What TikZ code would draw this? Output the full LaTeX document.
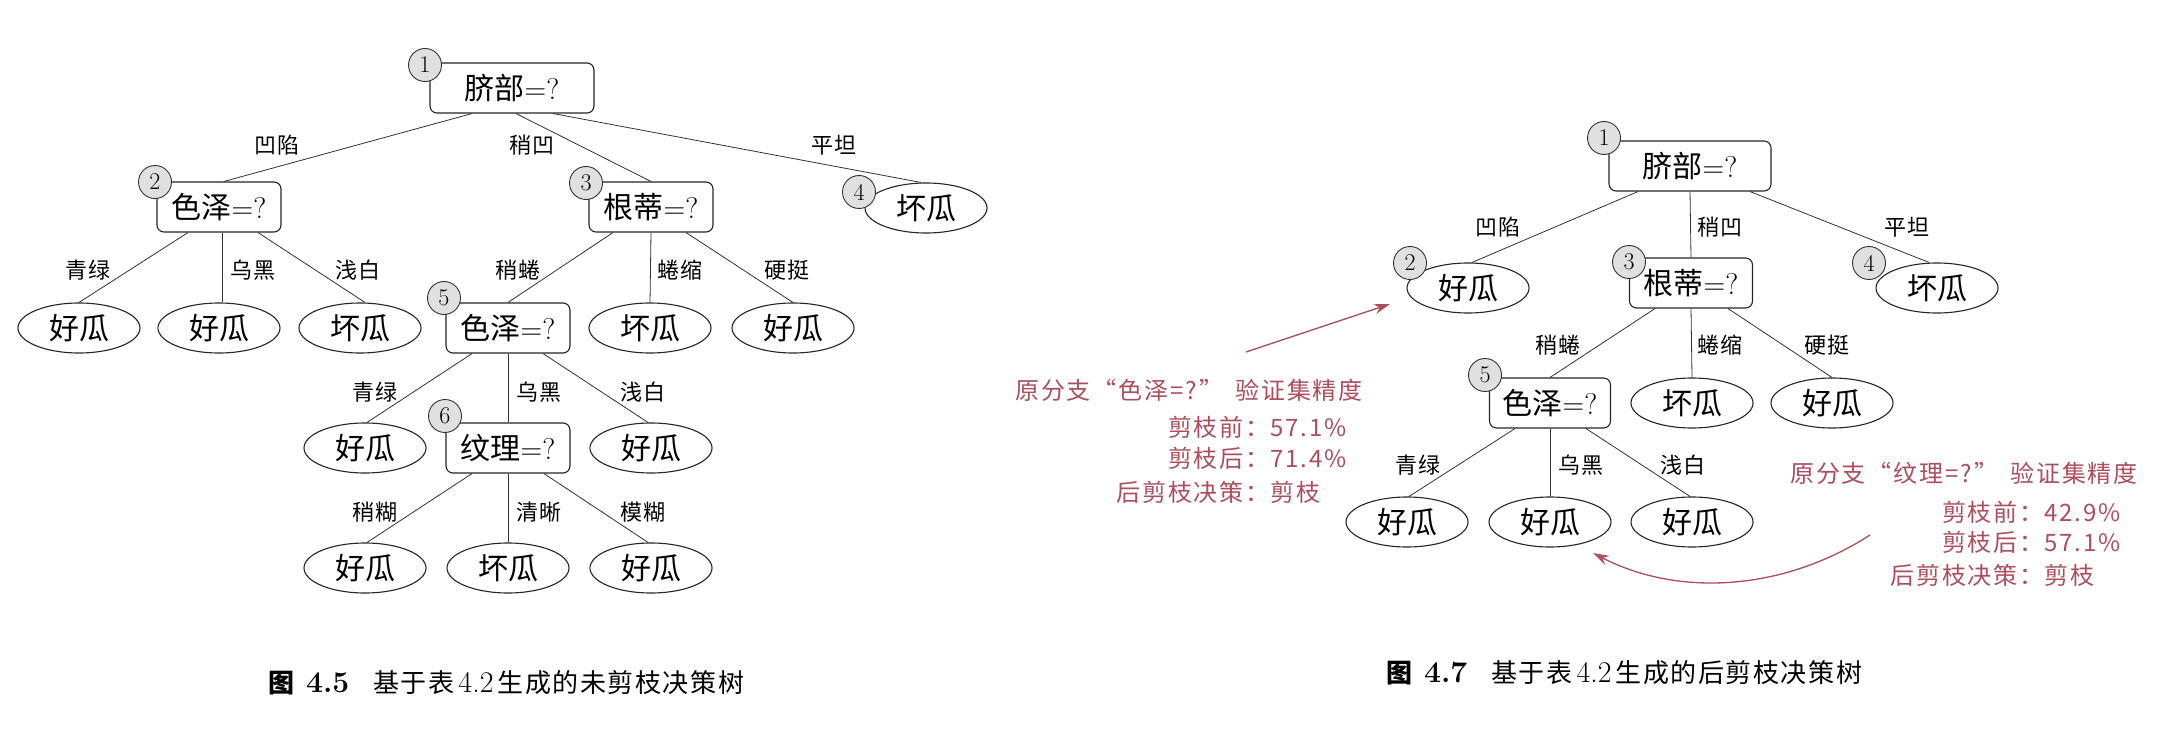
\documentclass[tikz,border=0pt]{standalone}
\usepackage{fontspec}
\newfontfamily\cjk{Noto Sans CJK SC}
\newfontfamily\cjkls[LetterSpace=8]{Noto Sans CJK SC}
\newfontfamily\cjkcap[LetterSpace=6]{Noto Sans CJK SC}
\usetikzlibrary{shapes.geometric,arrows.meta}
\definecolor{notered}{RGB}{172,78,94}
\tikzset{
  testbox/.style={draw=black!85, line width=1.1pt, rounded corners=7pt, minimum height=50, minimum width=124, inner sep=0pt, font=\fontsize{30}{32}\selectfont},
  rootbox/.style={testbox, minimum width=164},
  leaf/.style={draw=black!85, line width=1.1pt, ellipse, minimum width=122, minimum height=50, inner sep=0pt, font=\cjk\fontsize{30}{32}\selectfont},
  num/.style={draw=black!80, line width=0.9pt, circle, fill=black!12, minimum size=33, inner sep=0pt, font=\fontsize{24}{24}\selectfont},
  elab/.style={inner sep=0pt, font=\cjkls\fontsize{22}{24}\selectfont},
  edge/.style={draw=black!80, line width=0.8pt},
  note/.style={inner sep=0pt, text=notered, font=\cjkls\fontsize{24}{26}\selectfont},
  notearrow/.style={draw=notered, line width=1.3pt, -{Stealth[length=16pt,width=10pt]}},
  capt/.style={inner sep=0pt, anchor=west, font=\fontsize{26}{28}\selectfont},
}
\newcommand\capnum[1]{{\fontsize{30}{30}\selectfont #1}}
\begin{document}
\begin{tikzpicture}[x=1pt,y=-1pt]
\useasboundingbox[fill=white] (0,0) rectangle (2170,730);

% ================= left tree =================
\node[rootbox] (L1) at (512,88) {{\cjk 脐部}=?};
\node[testbox] (L2) at (219,207) {{\cjk 色泽}=?};
\node[testbox] (L3) at (651,207) {{\cjk 根蒂}=?};
\node[leaf] (L4) at (926,208) {坏瓜};
\node[leaf] (L21) at (79,328) {好瓜};
\node[leaf] (L22) at (219,328) {好瓜};
\node[leaf] (L23) at (360,328) {坏瓜};
\node[testbox] (L5) at (508,328) {{\cjk 色泽}=?};
\node[leaf] (L32) at (650,328) {坏瓜};
\node[leaf] (L33) at (793,328) {好瓜};
\node[leaf] (L51) at (365,448) {好瓜};
\node[testbox] (L6) at (508,448) {{\cjk 纹理}=?};
\node[leaf] (L53) at (651,448) {好瓜};
\node[leaf] (L61) at (365,568) {好瓜};
\node[leaf] (L62) at (508,568) {坏瓜};
\node[leaf] (L63) at (651,568) {好瓜};

\draw[edge] ([xshift=-40]L1.south) -- ([xshift=5]L2.north);
\draw[edge] ([xshift=4]L1.south) -- (L3.north);
\draw[edge] ([xshift=41]L1.south) -- ([xshift=-5]L4.north);
\draw[edge] ([xshift=-31]L2.south) -- (L21.north);
\draw[edge] ([xshift=3]L2.south) -- ([xshift=3]L22.north);
\draw[edge] ([xshift=39]L2.south) -- ([xshift=5]L23.north);
\draw[edge] ([xshift=-38]L3.south) -- (L5.north);
\draw[edge] (L3.south) -- (L32.north);
\draw[edge] ([xshift=35]L3.south) -- (L33.north);
\draw[edge] ([xshift=-36]L5.south) -- ([xshift=2]L51.north);
\draw[edge] (L5.south) -- (L6.north);
\draw[edge] ([xshift=35]L5.south) -- ([xshift=-3]L53.north);
\draw[edge] ([xshift=-36]L6.south) -- ([xshift=2]L61.north);
\draw[edge] (L6.south) -- (L62.north);
\draw[edge] ([xshift=36]L6.south) -- ([xshift=-3]L63.north);

\node[elab] (tL12) at (277,145) {凹陷};
\node[elab] (tL13) at (532,145) {稍凹};
\node[elab] (tL14) at (834,145) {平坦};
\node[elab] (tL21) at (88,270) {青绿};
\node[elab] (tL22) at (253,270) {乌黑};
\node[elab] (tL23) at (358,270) {浅白};
\node[elab] (tL31) at (518,270) {稍蜷};
\node[elab] (tL32) at (680,270) {蜷缩};
\node[elab] (tL33) at (787,270) {硬挺};
\node[elab] (tL51) at (375,392) {青绿};
\node[elab] (tL52) at (539,392) {乌黑};
\node[elab] (tL53) at (643,392) {浅白};
\node[elab] (tL61) at (375,512) {稍糊};
\node[elab] (tL62) at (539,512) {清晰};
\node[elab] (tL63) at (643,512) {模糊};

\node[num] (nL1) at (425,65) {1};
\node[num] (nL2) at (155,182) {2};
\node[num] (nL3) at (586,183) {3};
\node[num] (nL4) at (859,192) {4};
\node[num] (nL5) at (444,298) {5};
\node[num] (nL6) at (445,416) {6};

\node[capt] (capL) at (268,683) {{\cjk\bfseries 图}\hspace{12pt}\capnum{\textbf{4.5}}\hspace{24pt}{\cjkcap 基于表}\hspace{4pt}\capnum{4.2}\hspace{4pt}{\cjkcap 生成的未剪枝决策树}};

% ================= right tree =================
\node[rootbox, minimum width=162] (R1) at (1690,166) {{\cjk 脐部}=?};
\node[leaf] (R2) at (1468,288) {好瓜};
\node[testbox, minimum width=123] (R3) at (1691,283) {{\cjk 根蒂}=?};
\node[leaf] (R4) at (1937,288) {坏瓜};
\node[testbox, minimum width=121] (R5) at (1550,403) {{\cjk 色泽}=?};
\node[leaf] (R32) at (1692,403) {坏瓜};
\node[leaf] (R33) at (1832,403) {好瓜};
\node[leaf] (R51) at (1407,522) {好瓜};
\node[leaf] (R52) at (1550,522) {好瓜};
\node[leaf] (R53) at (1692,522) {好瓜};

\draw[edge] ([xshift=-52]R1.south) -- ([xshift=4]R2.north);
\draw[edge] (R1.south) -- (R3.north);
\draw[edge] ([xshift=60]R1.south) -- ([xshift=-8]R4.north);
\draw[edge] ([xshift=-36]R3.south) -- (R5.north);
\draw[edge] (R3.south) -- (R32.north);
\draw[edge] ([xshift=37]R3.south) -- (R33.north);
\draw[edge] ([xshift=-35]R5.south) -- ([xshift=2]R51.north);
\draw[edge] (R5.south) -- (R52.north);
\draw[edge] ([xshift=36]R5.south) -- ([xshift=-2]R53.north);

\node[elab] (tR12) at (1498,227) {凹陷};
\node[elab] (tR13) at (1720,227) {稍凹};
\node[elab] (tR14) at (1907,227) {平坦};
\node[elab] (tR31) at (1558,345) {稍蜷};
\node[elab] (tR32) at (1720,345) {蜷缩};
\node[elab] (tR33) at (1827,345) {硬挺};
\node[elab] (tR51) at (1418,465) {青绿};
\node[elab] (tR52) at (1581,465) {乌黑};
\node[elab] (tR53) at (1683,465) {浅白};

\node[num] (nR1) at (1604,138) {1};
\node[num] (nR2) at (1410,263) {2};
\node[num] (nR3) at (1629,262) {3};
\node[num] (nR4) at (1869,263) {4};
\node[num] (nR5) at (1485,375) {5};

% ---- annotations ----
\node[note, anchor=base] (aL0) at (1189,399) {原分支“色泽=?”\enspace 验证集精度};
\node[note, anchor=base east] (aL1k) at (1270,436) {剪枝前：};
\node[note, anchor=base west] (aL1v) at (1270,436) {57.1\%};
\node[note, anchor=base east] (aL2k) at (1270,467) {剪枝后：};
\node[note, anchor=base west] (aL2v) at (1270,467) {71.4\%};
\node[note, anchor=base east] (aL3k) at (1270,501) {后剪枝决策：};
\node[note, anchor=base west] (aL3v) at (1270,501) {剪枝};

\node[note, anchor=base] (aR0) at (1964,482) {原分支“纹理=?”\enspace 验证集精度};
\node[note, anchor=base east] (aR1k) at (2044,521) {剪枝前：};
\node[note, anchor=base west] (aR1v) at (2044,521) {42.9\%};
\node[note, anchor=base east] (aR2k) at (2044,551) {剪枝后：};
\node[note, anchor=base west] (aR2v) at (2044,551) {57.1\%};
\node[note, anchor=base east] (aR3k) at (2044,584) {后剪枝决策：};
\node[note, anchor=base west] (aR3v) at (2044,584) {剪枝};

\coordinate (arLs) at (1246,352);
\coordinate (arLe) at (1390,304);
\draw[notearrow] (arLs) -- (arLe);
\coordinate (arRs) at (1870,535);
\coordinate (arRe) at (1593,553);
\draw[notearrow] (arRs) .. controls (1785,590) and (1680,598) .. (arRe);

\node[capt] (capR) at (1386,673) {{\cjk\bfseries 图}\hspace{12pt}\capnum{\textbf{4.7}}\hspace{24pt}{\cjkcap 基于表}\hspace{4pt}\capnum{4.2}\hspace{4pt}{\cjkcap 生成的后剪枝决策树}};
\end{tikzpicture}
\end{document}
